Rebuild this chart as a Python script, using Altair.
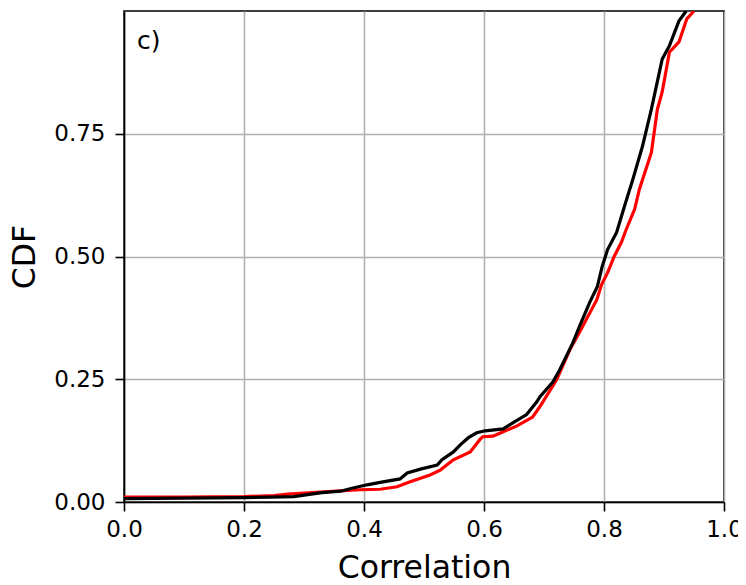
import altair as alt
import pandas as pd

black_x = [0.0, 0.10, 0.20, 0.245, 0.283, 0.306, 0.33, 0.361, 0.38, 0.405, 0.427, 0.46, 0.472,
           0.494, 0.522, 0.53, 0.549, 0.56, 0.574, 0.588, 0.602, 0.632, 0.648, 0.671, 0.688,
           0.693, 0.715, 0.726, 0.748, 0.759, 0.776, 0.789, 0.797, 0.806, 0.821, 0.834, 0.848,
           0.864, 0.879, 0.897, 0.909, 0.925, 0.937]
black_y = [0.007, 0.008, 0.009, 0.010, 0.011, 0.015, 0.019, 0.022, 0.028, 0.035, 0.040, 0.047, 0.059,
           0.067, 0.075, 0.086, 0.102, 0.116, 0.131, 0.141, 0.145, 0.149, 0.161, 0.178, 0.204,
           0.214, 0.245, 0.269, 0.324, 0.357, 0.406, 0.439, 0.480, 0.514, 0.549, 0.602, 0.657,
           0.724, 0.800, 0.902, 0.929, 0.980, 1.0]

red_x = [0.0, 0.10, 0.20, 0.25, 0.273, 0.30, 0.340, 0.393, 0.427, 0.455, 0.477, 0.51, 0.527,
         0.549, 0.577, 0.593, 0.598, 0.615, 0.632, 0.655, 0.681, 0.693, 0.721, 0.743, 0.759,
         0.788, 0.796, 0.806, 0.817, 0.829, 0.837, 0.851, 0.859, 0.879, 0.889, 0.897, 0.909,
         0.925, 0.938, 0.950]
red_y = [0.010, 0.010, 0.011, 0.013, 0.016, 0.018, 0.021, 0.025, 0.026, 0.031, 0.041, 0.055, 0.065,
         0.086, 0.102, 0.127, 0.133, 0.134, 0.143, 0.155, 0.173, 0.194, 0.249, 0.310, 0.345,
         0.412, 0.443, 0.467, 0.500, 0.529, 0.555, 0.596, 0.637, 0.712, 0.800, 0.835, 0.916,
         0.937, 0.984, 1.0]

x_ticks = [0.0, 0.2, 0.4, 0.6, 0.8, 1.0]
y_ticks = [0.0, 0.25, 0.5, 0.75]
panel_label = "c)"

df_black = pd.DataFrame({"x": black_x, "y": black_y, "order": range(len(black_x))})
df_red = pd.DataFrame({"x": red_x, "y": red_y, "order": range(len(red_x))})

xenc = alt.X("x:Q", scale=alt.Scale(domain=[0, 1], nice=False),
             axis=alt.Axis(title="Correlation", values=x_ticks, format=".1f",
                           labelFlush=False, labelPadding=7, titlePadding=11))
yenc = alt.Y("y:Q", scale=alt.Scale(domain=[0, 1], nice=False),
             axis=alt.Axis(title="CDF", values=y_ticks, format=".2f",
                           labelPadding=10, titlePadding=12))

red_line = alt.Chart(df_red).mark_line(color="#ff0000", strokeWidth=3.2, clip=True).encode(
    x=xenc, y=yenc, order="order:Q")
black_line = alt.Chart(df_black).mark_line(color="black", strokeWidth=3.2, clip=True).encode(
    x=xenc, y=yenc, order="order:Q")

label = alt.Chart(pd.DataFrame({"t": [panel_label]})).mark_text(
    align="left", baseline="alphabetic", fontSize=25, font="DejaVu Sans", color="black"
).encode(x=alt.value(13), y=alt.value(38), text="t:N")

chart = alt.layer(red_line, black_line, label).properties(
    width=600, height=491,
    autosize=alt.AutoSizeParams(type="none"),
    padding={"left": 116, "top": 3, "right": 14, "bottom": 83},
).configure_view(stroke="black", strokeWidth=1.6).configure_axis(
    labelFont="DejaVu Sans", titleFont="DejaVu Sans",
    labelFontSize=23, titleFontSize=31.5, titleFontWeight="normal",
    labelColor="black", titleColor="black",
    domainColor="black", domainWidth=1.6,
    tickColor="black", tickWidth=1.6, tickSize=9,
    gridColor="#b0b0b0", gridWidth=1.6,
)

chart.save("out.html", embed_options={"renderer": "svg", "actions": False})
